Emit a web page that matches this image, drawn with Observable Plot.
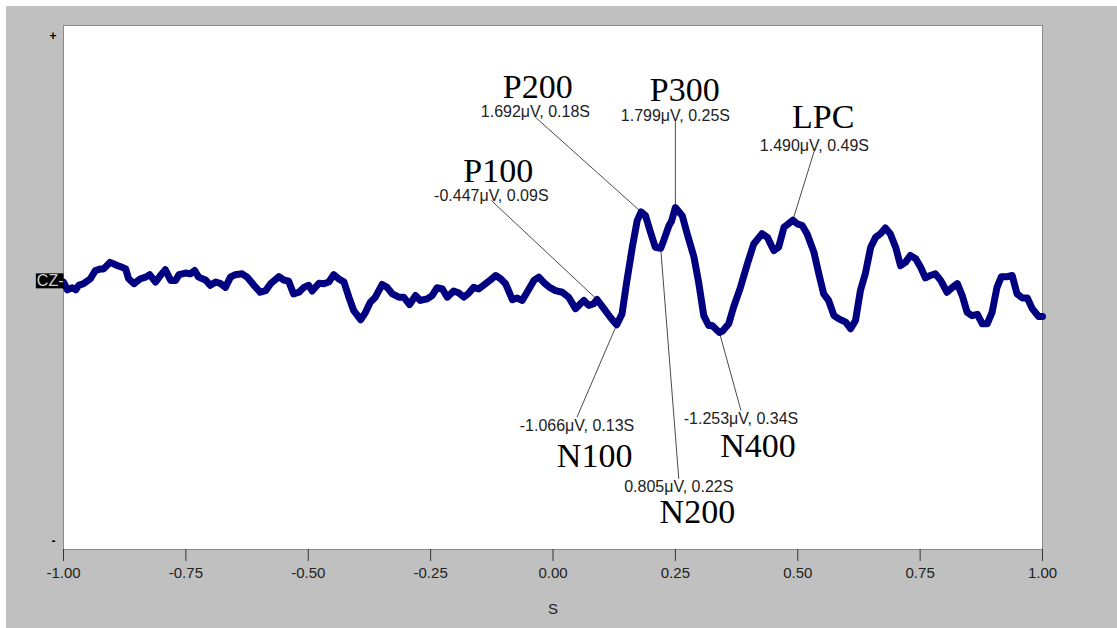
<!DOCTYPE html>
<html><head><meta charset="utf-8">
<script src="https://cdn.jsdelivr.net/npm/d3@7"></script>
<script src="https://cdn.jsdelivr.net/npm/@observablehq/plot@0.6"></script>
<style>
html,body{margin:0;padding:0;background:#fff;}
#chart{position:absolute;left:6px;top:6px;}
</style></head><body><div id="chart"></div>
<script>
// ---- data (seconds, microvolts) ----
const times = [
-1.000,-0.992,-0.982,-0.975,-0.969,-0.959,-0.945,-0.935,-0.924,-0.918,
-0.905,-0.897,-0.890,-0.880,-0.873,-0.867,-0.856,-0.843,-0.832,-0.824,
-0.812,-0.802,-0.792,-0.781,-0.771,-0.764,-0.751,-0.741,-0.732,-0.724,
-0.710,-0.700,-0.689,-0.679,-0.669,-0.659,-0.649,-0.635,-0.625,-0.611,
-0.598,-0.587,-0.577,-0.560,-0.550,-0.540,-0.530,-0.519,-0.509,-0.499,
-0.492,-0.478,-0.468,-0.458,-0.448,-0.438,-0.427,-0.417,-0.407,-0.393,
-0.383,-0.373,-0.363,-0.349,-0.339,-0.328,-0.315,-0.305,-0.293,-0.281,
-0.271,-0.257,-0.247,-0.237,-0.226,-0.216,-0.203,-0.192,-0.182,-0.172,
-0.162,-0.152,-0.138,-0.128,-0.117,-0.107,-0.097,-0.083,-0.073,-0.063,
-0.053,-0.039,-0.029,-0.019,-0.007,0.005,0.019,0.032,0.046,0.056,
0.063,0.073,0.083,0.090,0.104,0.117,0.130,0.141,0.150,0.162,
0.172,0.180,0.189,0.199,0.209,0.220,0.226,0.237,0.242,0.250,
0.264,0.274,0.288,0.298,0.308,0.318,0.325,0.340,0.346,0.359,
0.369,0.383,0.397,0.410,0.427,0.438,0.451,0.461,0.472,0.490,
0.499,0.509,0.519,0.533,0.543,0.553,0.563,0.574,0.584,0.598,
0.608,0.618,0.628,0.638,0.649,0.659,0.669,0.679,0.689,0.700,
0.710,0.720,0.730,0.741,0.751,0.761,0.771,0.781,0.792,0.805,
0.816,0.826,0.836,0.846,0.856,0.867,0.877,0.887,0.897,0.907,
0.916,0.928,0.938,0.948,0.959,0.969,0.979,0.992,1.000];
const microvolts = [
-0.02,-0.21,-0.16,-0.21,-0.10,-0.06,0.06,0.26,0.30,0.30,
0.46,0.42,0.38,0.34,0.30,0.06,-0.06,0.06,0.10,0.16,
-0.02,0.14,0.28,0.02,0.02,0.16,0.20,0.18,0.26,0.10,
0.03,-0.10,-0.02,-0.06,-0.15,0.10,0.16,0.18,0.10,-0.10,
-0.27,-0.23,-0.06,0.11,0.03,0.00,-0.31,-0.27,-0.15,-0.10,
-0.24,-0.05,-0.06,-0.02,0.16,0.06,-0.02,-0.39,-0.72,-0.94,
-0.76,-0.51,-0.39,-0.08,-0.15,-0.31,-0.39,-0.39,-0.57,-0.35,
-0.47,-0.43,-0.35,-0.16,-0.19,-0.39,-0.24,-0.29,-0.39,-0.29,
-0.15,-0.19,-0.06,0.03,0.14,0.06,-0.06,-0.45,-0.41,-0.47,
-0.27,0.02,0.10,-0.03,-0.15,-0.23,-0.27,-0.39,-0.67,-0.55,
-0.47,-0.59,-0.55,-0.447,-0.67,-0.88,-1.066,-0.80,-0.06,0.83,
1.48,1.692,1.60,1.20,0.83,0.805,0.99,1.36,1.46,1.799,
1.60,1.16,0.59,-0.06,-0.84,-1.08,-1.08,-1.253,-1.22,-1.04,
-0.63,-0.15,0.42,0.91,1.16,1.07,0.75,0.83,1.32,1.490,
1.40,1.36,1.16,0.71,0.18,-0.31,-0.47,-0.84,-0.92,-1.00,
-1.16,-0.96,-0.23,0.18,0.83,1.07,1.16,1.30,1.16,0.83,
0.38,0.46,0.63,0.55,0.34,0.08,0.14,0.18,0.02,-0.27,
-0.15,-0.06,-0.35,-0.76,-0.84,-0.81,-1.04,-1.04,-0.76,-0.15,
0.11,0.11,0.14,-0.31,-0.41,-0.41,-0.67,-0.86,-0.86];

const peakNames  = ["P100","N100","P200","N200","P300","N400","LPC"];
const peakTimes  = [0.09, 0.13, 0.18, 0.22, 0.25, 0.34, 0.49];
const peakValues = [-0.447, -1.066, 1.692, 0.805, 1.799, -1.253, 1.490];

const xTicks = [-1, -0.75, -0.5, -0.25, 0, 0.25, 0.5, 0.75, 1];
const yDomain = [-6.55, 6.243];
const channelLabel = "CZ";
const xLabel = "S";

// ---- label layout (where each annotation sits, in scale units) ----
const labelLayout = {
  P100: {lt:-0.126, lv: 1.970, bt:-0.112, bv: 2.700, up:true},
  P200: {lt:-0.036, lv: 4.004, bt:-0.031, bv: 4.730, up:true},
  P300: {lt: 0.250, lv: 3.923, bt: 0.269, bv: 4.670, up:true},
  LPC:  {lt: 0.534, lv: 3.191, bt: 0.552, bv: 4.010, up:true},
  N100: {lt: 0.049, lv:-3.320, bt: 0.085, bv:-4.282, up:false},
  N200: {lt: 0.257, lv:-4.824, bt: 0.295, bv:-5.630, up:false},
  N400: {lt: 0.384, lv:-3.157, bt: 0.419, bv:-4.023, up:false}
};

const wave = times.map((t, i) => ({t, v: microvolts[i]}));
const peaks = peakNames.map((name, i) => ({name, t: peakTimes[i], v: peakValues[i], ...labelLayout[name]}));
const valueText = d => `${d.v.toFixed(3)}μV, ${d.t.toFixed(2)}S`;

const sans = "'Liberation Sans', Arial, sans-serif";
const serif = "'Liberation Serif', 'Times New Roman', serif";

const plot = Plot.plot({
  width: 1111, height: 622,
  marginLeft: 57, marginRight: 75, marginTop: 19, marginBottom: 79,
  style: {background: "#c0c0c0", fontFamily: sans, overflow: "visible"},
  x: {domain: [-1, 1]},
  y: {domain: yDomain, axis: null},
  marks: [
    Plot.frame({fill: "white", stroke: "#8a8a8a"}),
    Plot.axisX({ticks: xTicks, tickFormat: d => d.toFixed(2), tickSize: 12, tickPadding: 6,
      fontSize: 15, stroke: "#333", fill: "#222", label: null}),
    Plot.link(peaks, {x1: "t", y1: "v", x2: "lt", y2: "lv", stroke: "#4a4a4a", strokeWidth: 1}),
    Plot.line(wave, {x: "t", y: "v", stroke: "#000080", strokeWidth: 7,
      strokeLinejoin: "round", strokeLinecap: "round"}),
    Plot.text(peaks.filter(d => d.up), {x: "lt", y: "lv", text: valueText, dy: -5,
      fontSize: 16, fill: "#222", fontFamily: sans}),
    Plot.text(peaks.filter(d => !d.up), {x: "lt", y: "lv", text: valueText, dy: 8.3,
      fontSize: 16, fill: "#222", fontFamily: sans}),
    Plot.text(peaks, {x: "bt", y: "bv", text: "name", fontSize: 34, fill: "#000", fontFamily: serif}),
    Plot.text(["+"], {text: d => d, frameAnchor: "top-left", dx: -14, dy: 6, fontSize: 12, fontWeight: "bold", fill: "#000"}),
    Plot.text(["-"], {text: d => d, frameAnchor: "bottom-left", dx: -12, dy: -5, fontSize: 12, fontWeight: "bold", fill: "#000"}),
    Plot.text([channelLabel + "-"], {text: d => d, y: () => 0, frameAnchor: "left", textAnchor: "end",
      dx: 0, fontSize: 16, fill: "#d0d0d0", className: "cz"}),
    Plot.text([xLabel], {text: d => d, frameAnchor: "bottom", dy: 64, fontSize: 15, fill: "#222"})
  ]
});

document.getElementById("chart").appendChild(plot);

// black background behind channel label
const czText = plot.querySelector("g.cz text");
if (czText) {
  const b = czText.getBBox();
  const r = document.createElementNS("http://www.w3.org/2000/svg", "rect");
  const tr = czText.getAttribute("transform");
  if (tr) r.setAttribute("transform", tr);
  r.setAttribute("x", b.x - 1);
  r.setAttribute("y", b.y + 1);
  r.setAttribute("width", b.width + 1);
  r.setAttribute("height", b.height - 2);
  r.setAttribute("fill", "#000");
  czText.parentNode.insertBefore(r, czText);
}
</script>
</body></html>
